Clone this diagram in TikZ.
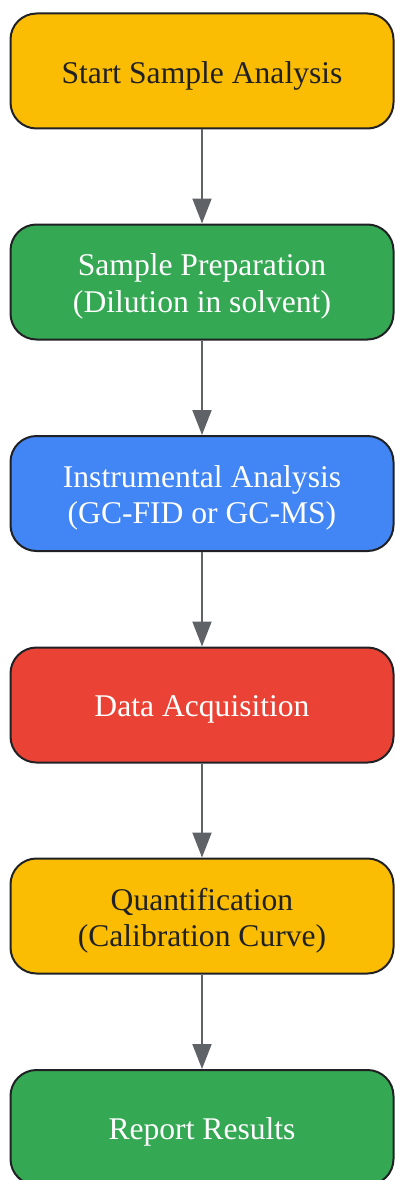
\documentclass[tikz,border=0pt]{standalone}
\usepackage{fontspec}
\setmainfont{Liberation Serif}
\usetikzlibrary{arrows.meta}
\definecolor{gyellow}{HTML}{FBBC04}
\definecolor{ggreen}{HTML}{34A853}
\definecolor{gblue}{HTML}{4285F4}
\definecolor{gred}{HTML}{EA4335}
\definecolor{gdark}{HTML}{202124}
\definecolor{ggray}{HTML}{5F6368}
\tikzset{
  stepbox/.style={draw=gdark, line width=2pt, rounded corners=26pt,
    minimum width=383pt, minimum height=115pt, inner sep=0pt},
  steptext/.style={align=center, inner sep=0pt, yshift=-4.5pt,
    font=\fontsize{31.6pt}{36.5pt}\selectfont},
  conn/.style={draw=ggray, line width=2pt,
    -{Triangle[length=25pt,width=19pt]}}
}
\begin{document}
\begin{tikzpicture}[x=1pt,y=1pt]
\useasboundingbox (0,0) rectangle (394,-1180);
\node[stepbox, fill=gyellow] (n1) at (202,-71) {};
\node[stepbox, fill=ggreen] (n2) at (202,-282) {};
\node[stepbox, fill=gblue] (n3) at (202,-493.5) {};
\node[stepbox, fill=gred] (n4) at (202,-705) {};
\node[stepbox, fill=gyellow] (n5) at (202,-916) {};
\node[stepbox, fill=ggreen] (n6) at (202,-1127.5) {};
\node[steptext, text=gdark] (t1) at (n1.center) {Start Sample Analysis};
\node[steptext, text=white] (t2) at (n2.center) {Sample Preparation\\(Dilution in solvent)};
\node[steptext, text=white] (t3) at (n3.center) {Instrumental Analysis\\(GC-FID or GC-MS)};
\node[steptext, text=white] (t4) at (n4.center) {Data Acquisition};
\node[steptext, text=gdark] (t5) at (n5.center) {Quantification\\(Calibration Curve)};
\node[steptext, text=white] (t6) at (n6.center) {Report Results};
\draw[conn] (n1) -- (n2);
\draw[conn] (n2) -- (n3);
\draw[conn] (n3) -- (n4);
\draw[conn] (n4) -- (n5);
\draw[conn] (n5) -- (n6);
\end{tikzpicture}
\end{document}
